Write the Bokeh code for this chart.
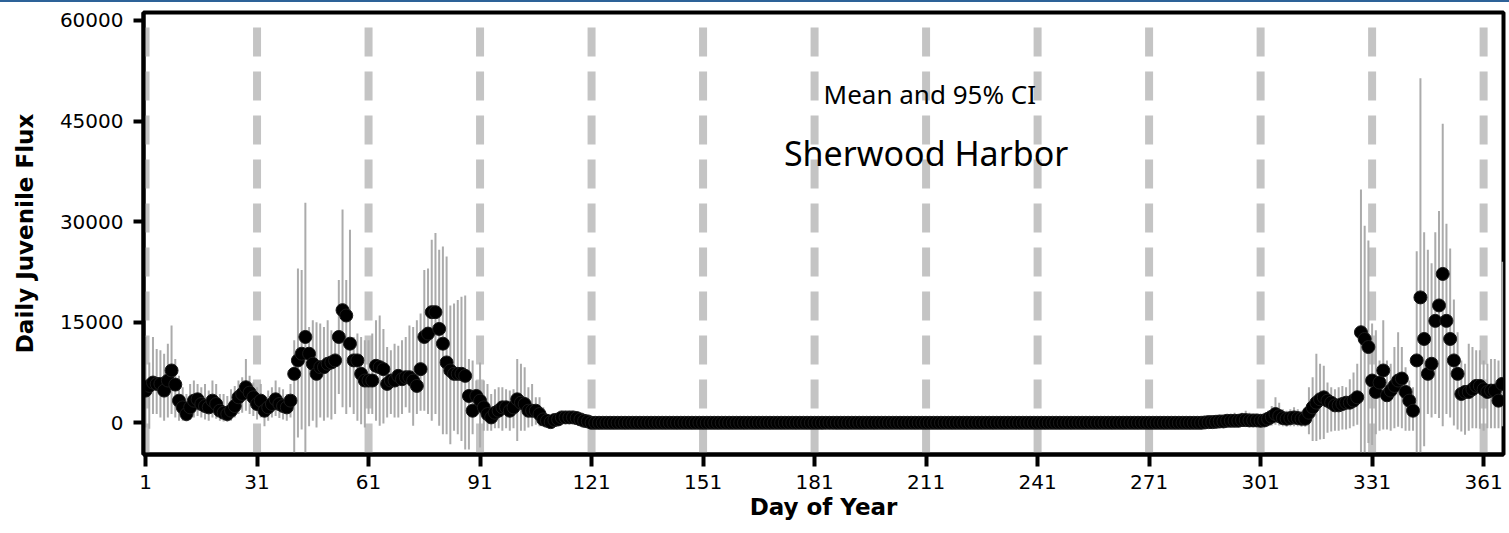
from bokeh.plotting import figure
from bokeh.models import ColumnDataSource, Range1d, FixedTicker, Label, Div
from bokeh.layouts import column
from bokeh.embed import file_html
from bokeh.resources import INLINE

# ---------------- data ----------------
x_ticks = [1, 31, 61, 91, 121, 151, 181, 211, 241, 271, 301, 331, 361]
y_ticks = [0, 15000, 30000, 45000, 60000]
title_text = "Sherwood Harbor"
subtitle_text = "Mean and 95% CI"
x_label = "Day of Year"
y_label = "Daily Juvenile Flux"

mean_flux = [
    4800, 5500, 6000, 5800, 5800, 4800, 6300, 7800, 5700, 3300,          # 1-10
    2300, 1300, 2300, 3300, 3500, 2800, 2500, 2300, 3300, 2800,          # 11-20
    1800, 1500, 1300, 1800, 2500, 3800, 4300, 5300, 4500, 3800,          # 21-30
    2800, 3300, 1800, 2300, 2800, 3500, 2800, 2500, 2300, 3300,          # 31-40
    7300, 9300, 10300, 12800, 10300, 8800, 7300, 8300, 8300, 8800,       # 41-50
    9000, 9300, 12800, 16800, 16000, 11800, 9300, 9300, 7300, 6300,      # 51-60
    6300, 6300, 8500, 8300, 8000, 5800, 6300, 6300, 7000, 6500,          # 61-70
    6800, 6800, 6300, 5500, 8000, 12800, 13300, 16500, 16500, 14000,     # 71-80
    11800, 9000, 7800, 7300, 7300, 7300, 7000, 4000, 1800, 4000,         # 81-90
    3300, 2300, 1300, 800, 1500, 1800, 2300, 2300, 1800, 2300,           # 91-100
    3500, 3000, 2800, 1800, 1800, 1800, 1300, 500, 300, 100,             # 101-110
    400, 500, 800, 800, 800, 800, 700, 500, 300, 200,                    # 111-120
    0, 0, 0, 0, 0, 0, 0, 0, 0, 0, 0, 0, 0, 0, 0, 0, 0, 0, 0, 0,          # 121-140
    0, 0, 0, 0, 0, 0, 0, 0, 0, 0, 0, 0, 0, 0, 0, 0, 0, 0, 0, 0,          # 141-160
    0, 0, 0, 0, 0, 0, 0, 0, 0, 0, 0, 0, 0, 0, 0, 0, 0, 0, 0, 0,          # 161-180
    0, 0, 0, 0, 0, 0, 0, 0, 0, 0, 0, 0, 0, 0, 0, 0, 0, 0, 0, 0,          # 181-200
    0, 0, 0, 0, 0, 0, 0, 0, 0, 0, 0, 0, 0, 0, 0, 0, 0, 0, 0, 0,          # 201-220
    0, 0, 0, 0, 0, 0, 0, 0, 0, 0, 0, 0, 0, 0, 0, 0, 0, 0, 0, 0,          # 221-240
    0, 0, 0, 0, 0, 0, 0, 0, 0, 0, 0, 0, 0, 0, 0, 0, 0, 0, 0, 0,          # 241-260
    0, 0, 0, 0, 0, 0, 0, 0, 0, 0, 0, 0, 0, 0, 0, 0, 0, 0, 0, 0,          # 261-280
    0, 0, 0, 0, 0, 50, 100, 100, 150, 200,                               # 281-290
    200, 300, 300, 300, 300, 400, 400, 350, 350, 350,                    # 291-300
    300, 350, 600, 900, 1300, 1000, 700, 600, 700, 800,                  # 301-310
    700, 600, 600, 1500, 2300, 3000, 3500, 3800, 3300, 3000,             # 311-320
    2600, 2600, 2800, 3000, 3000, 3300, 3800, 13500, 12500, 11300,       # 321-330
    6300, 4600, 6000, 7800, 4100, 4800, 5500, 6300, 6600, 4600,          # 331-340
    3300, 1800, 9300, 18700, 12500, 7300, 8800, 15200, 17500, 22200,     # 341-350
    15200, 12500, 9300, 7300, 4300, 4600, 4600, 5000, 5500, 5500,        # 351-360
    5000, 4600, 4800, 4800, 3300, 5800,                                  # 361-366
]

upper_ci = [
    12800, 9000, 12800, 11000, 10800, 10300, 11800, 14500, 9500, 7000,
    5300, 4300, 5800, 6300, 5800, 5300, 5800, 4800, 6300, 5800,
    4300, 4300, 4000, 5000, 5500, 6300, 6800, 9500, 7000, 6000,
    5300, 5800, 3800, 4800, 5300, 6300, 5300, 5000, 4300, 5800,
    12300, 23000, 22800, 32800, 14300, 15300, 15000, 14800, 14300, 15300,
    13800, 12800, 21300, 31800, 21300, 28800, 12800, 13300, 12800, 12300,
    12300, 13300, 15300, 16000, 14000, 11300, 10800, 11800, 11500, 12300,
    12800, 14500, 14300, 15300, 16300, 22800, 23000, 27300, 28300, 25800,
    26300, 24800, 17500, 17800, 18300, 18800, 19000, 9500, 9300, 6300,
    9000, 6300, 5800, 4300, 5000, 5300, 5300, 5000, 4800, 5000,
    9500, 8800, 8300, 5300, 5800, 3800, 3800, 2300, 1300, 800,
    1000, 1300, 1500, 1500, 1500, 1300, 1200, 900, 600, 400,
    0, 0, 0, 0, 0, 0, 0, 0, 0, 0, 0, 0, 0, 0, 0, 0, 0, 0, 0, 0,
    0, 0, 0, 0, 0, 0, 0, 0, 0, 0, 0, 0, 0, 0, 0, 0, 0, 0, 0, 0,
    0, 0, 0, 0, 0, 0, 0, 0, 0, 0, 0, 0, 0, 0, 0, 0, 0, 0, 0, 0,
    0, 0, 0, 0, 0, 0, 0, 0, 0, 0, 0, 0, 0, 0, 0, 0, 0, 0, 0, 0,
    0, 0, 0, 0, 0, 0, 0, 0, 0, 0, 0, 0, 0, 0, 0, 0, 0, 0, 0, 0,
    0, 0, 0, 0, 0, 0, 0, 0, 0, 0, 0, 0, 0, 0, 0, 0, 0, 0, 0, 0,
    0, 0, 0, 0, 0, 0, 0, 0, 0, 0, 0, 0, 0, 0, 0, 0, 0, 0, 0, 0,
    0, 0, 0, 0, 0, 0, 0, 0, 0, 0, 0, 0, 0, 0, 0, 0, 0, 0, 0, 0,
    0, 0, 0, 0, 0, 100, 300, 300, 400, 600,
    800, 1000, 1300, 1500, 1300, 1500, 1800, 1500, 1300, 1300,
    1300, 1500, 1800, 2500, 3800, 3000, 2000, 1800, 2000, 2300,
    2000, 1800, 1800, 5300, 6800, 10300, 8800, 8500, 6000, 5300,
    5000, 5300, 5500, 5300, 6500, 7500, 8800, 34800, 29400, 27200,
    14800, 13800, 9300, 15300, 9300, 8800, 11300, 13500, 11300, 8300,
    6300, 5300, 25600, 51400, 28400, 25800, 23800, 28400, 31600, 44600,
    29700, 26000, 18400, 13500, 9300, 8800, 11800, 11300, 10800, 10800,
    9300, 8800, 9500, 9500, 9300, 24000,
]

lower_ci = [
    -700, -900, 1300, 1300, 800, 300, 800, 1300, 800, 300,
    300, 200, 500, 800, 1000, 800, 500, 300, 800, 600,
    300, 200, 100, 300, 800, 1300, 1500, 1800, 1300, 1000,
    500, 800, -500, 300, 800, 1000, 700, 500, 300, 800,
    -4800, -2200, -1000, -4800, -500, 300, -700, 800, 300, 800,
    500, 1300, 4300, 2300, 1300, 2300, 1300, 300, -200, -700,
    1300, 1300, 300, -450, -100, 800, 1300, 800, 800, 1300,
    2300, 1500, -450, 1300, 1800, 1800, 1300, 300, 1300, -450,
    -1700, -1700, -3200, -1200, -1700, -2700, -4000, -4000, -1700, 1300,
    -3700, -1200, -1200, -1200, -800, -800, -1200, -800, -1200, -800,
    -2700, -1200, -1200, -700, -500, -300, -500, -300, -200, -300,
    -200, -200, 0, 100, 100, 100, 100, 100, 0, 0,
    0, 0, 0, 0, 0, 0, 0, 0, 0, 0, 0, 0, 0, 0, 0, 0, 0, 0, 0, 0,
    0, 0, 0, 0, 0, 0, 0, 0, 0, 0, 0, 0, 0, 0, 0, 0, 0, 0, 0, 0,
    0, 0, 0, 0, 0, 0, 0, 0, 0, 0, 0, 0, 0, 0, 0, 0, 0, 0, 0, 0,
    0, 0, 0, 0, 0, 0, 0, 0, 0, 0, 0, 0, 0, 0, 0, 0, 0, 0, 0, 0,
    0, 0, 0, 0, 0, 0, 0, 0, 0, 0, 0, 0, 0, 0, 0, 0, 0, 0, 0, 0,
    0, 0, 0, 0, 0, 0, 0, 0, 0, 0, 0, 0, 0, 0, 0, 0, 0, 0, 0, 0,
    0, 0, 0, 0, 0, 0, 0, 0, 0, 0, 0, 0, 0, 0, 0, 0, 0, 0, 0, 0,
    0, 0, 0, 0, 0, 0, 0, 0, 0, 0, 0, 0, 0, 0, 0, 0, 0, 0, 0, 0,
    0, 0, 0, 0, 0, 0, 0, -100, -100, -200,
    -300, -400, -500, -600, -500, -600, -600, -500, -600, -600,
    -600, -600, -500, -400, -300, -400, -500, -600, -500, -500,
    -500, -600, -600, -1700, -2700, -2700, -2500, -2400, -1500, -1300,
    -1200, -1200, -1000, -1000, -800, -500, -300, -4800, -4800, -3000,
    -3300, -1700, -1200, -1000, -1000, -1200, -800, -600, -800, -1200,
    -1200, -1200, -4800, -4800, -3500, 1300, 800, 1300, 700, -500,
    1300, 800, -400, -1000, -1300, -1800, -1200, -800, -800, -900,
    -1200, -800, -800, -800, -800, -500,
]

days = list(range(1, len(mean_flux) + 1))

# ---------------- figure ----------------
Y0, Y1 = -4730, 61190
p = figure(width=1507, height=531, output_backend="svg", toolbar_location=None,
           x_range=Range1d(0.45, 366.35), y_range=Range1d(Y0, Y1),
           min_border_left=143, min_border_right=4, min_border_top=10,
           min_border_bottom=79, background_fill_color="white",
           border_fill_color="white", margin=0)

p.xgrid.visible = False
p.ygrid.visible = False
p.outline_line_color = "black"
p.outline_line_width = 4
p.outline_line_alpha = 1.0

# vertical dashed reference lines at every tick
ref = ColumnDataSource(dict(x=x_ticks))
p.segment(x0="x", y0=Y1, x1="x", y1=Y0, source=ref, line_color="#c4c4c4",
          line_width=8, line_dash="29 15", line_dash_offset=29)

# CI bars
src = ColumnDataSource(dict(day=days, mean=mean_flux, lo=lower_ci, hi=upper_ci))
p.segment(x0="day", y0="lo", x1="day", y1="hi", source=src,
          line_color="#ababab", line_width=2)

# means
p.scatter(x="day", y="mean", source=src, size=13, marker="circle",
          fill_color="black", line_color="#1a1a1a", line_width=1)

# axes
for ax in (p.xaxis[0], p.yaxis[0]):
    ax.axis_line_width = 4
    ax.axis_line_color = "black"
    ax.major_tick_line_width = 4
    ax.major_tick_line_color = "black"
    ax.major_tick_in = 0
    ax.minor_tick_line_color = None
    ax.major_label_text_font = "DejaVu Sans"
    ax.major_label_text_font_size = "20px"
    ax.major_label_text_color = "black"
    ax.axis_label_text_font = "DejaVu Sans"
    ax.axis_label_text_font_style = "bold"
    ax.axis_label_text_font_size = "23px"
    ax.axis_label_text_color = "black"

p.xaxis.ticker = FixedTicker(ticks=x_ticks)
p.yaxis.ticker = FixedTicker(ticks=y_ticks)
p.xaxis.axis_label = x_label
p.yaxis.axis_label = y_label
p.xaxis.major_tick_out = 12
p.yaxis.major_tick_out = 10
p.xaxis.major_label_standoff = 8
p.xaxis.axis_label_standoff = 2
p.yaxis.major_label_standoff = 10
p.yaxis.axis_label_standoff = 19

p.add_layout(Label(x=212, y=49000, text=subtitle_text, text_align="center",
                   text_baseline="alphabetic", text_font="Noto Sans",
                   text_font_size="26px", text_color="black"))
p.add_layout(Label(x=211, y=40300, text=title_text, text_align="center",
                   text_baseline="alphabetic", text_font="Noto Sans",
                   text_font_size="34px", text_color="black"))

top_bar = Div(text="", width=1509, height=2, margin=0,
              styles={"background-color": "#2d6298", "padding": "0px"})

layout = column(top_bar, p, spacing=0, margin=0)
open("out.html", "w").write(file_html(layout, INLINE))
